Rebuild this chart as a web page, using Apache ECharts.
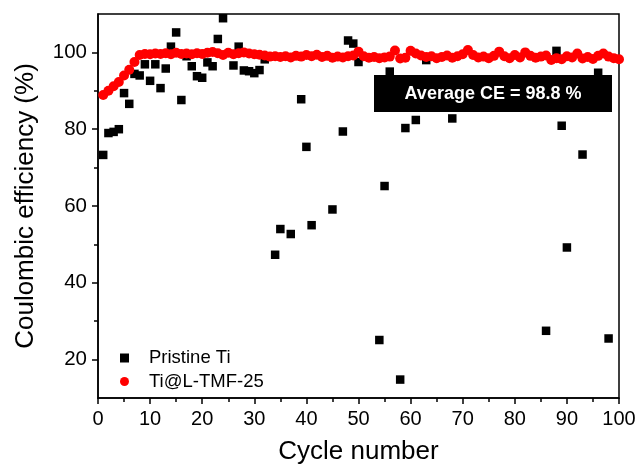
<!DOCTYPE html>
<html>
<head>
<meta charset="utf-8">
<script src="https://cdn.jsdelivr.net/npm/echarts@6/dist/echarts.min.js"></script>
<style>
html,body{margin:0;padding:0;background:#fff;}
#chart{width:639px;height:464px;}
</style>
</head>
<body>
<div id="chart"></div>
<script>
// Pristine Ti (visible points)
const pristineCycles = [1,2,3,4,5,6,7,8,9,10,11,12,13,14,15,16,17,18,19,20,21,22,23,24,26,27,28,29,30,31,32,34,35,37,39,40,41,45,47,48,49,50,54,55,56,58,59,61,63,68,85,86,88,89,90,93,96,98];
const pristineCE = [73.3,79.0,79.3,80.0,89.4,86.6,94.4,94.0,96.9,92.6,96.9,90.7,95.8,101.5,105.2,87.6,99.0,96.4,93.8,93.4,97.4,96.4,103.5,108.9,96.6,101.5,95.3,95.1,94.6,95.4,98.2,47.3,54.0,52.7,87.8,75.4,55.0,59.1,79.4,103.1,102.3,97.5,25.1,65.2,95.0,14.8,80.3,82.4,98.0,82.8,110.2,27.5,100.4,80.9,49.2,73.4,94.7,25.5];

// Ti@L-TMF-25, cycles 1..100
const coatedCycles = Array.from({length:100},(_,i)=>i+1);
const coatedCE = [88.9,90.0,91.2,92.3,94.0,95.5,97.5,99.3,99.6,99.5,
99.7,99.6,99.8,99.5,99.9,99.6,99.7,99.5,99.8,99.6,
99.9,100.1,99.8,99.3,99.9,99.5,99.8,100.0,99.7,99.5,
99.4,99.2,98.9,99.0,98.8,99.0,98.7,99.1,98.9,99.3,
99.0,99.4,98.8,99.1,98.6,98.9,98.7,99.0,99.2,100.2,
99.0,98.6,98.8,98.5,98.7,98.9,100.5,98.4,98.6,100.4,
99.7,99.2,98.8,99.0,98.5,98.8,99.2,98.6,99.0,99.5,
100.6,99.3,98.7,98.9,98.5,99.1,100.2,99.0,98.5,99.3,
98.7,100.0,99.1,98.6,98.9,99.2,98.0,98.5,98.2,99.0,
98.7,99.7,98.4,98.8,98.3,99.1,99.7,98.9,98.5,98.2];

const xTicks = [0,10,20,30,40,50,60,70,80,90,100];
const yMajor = [20,40,60,80,100];
const yMinor = [30,50,70,90];
const seriesNames = ['Pristine Ti','Ti@L-TMF-25'];
const annotation = 'Average CE = 98.8 %';

const font = 'Liberation Sans, Arial, sans-serif';
const chart = echarts.init(document.getElementById('chart'), null, {renderer:'canvas'});
chart.setOption({
  animation:false,
  backgroundColor:'#fff',
  grid:{left:98,right:20,top:14,bottom:66,containLabel:false,outerBoundsMode:'none',show:true,borderColor:'#000',borderWidth:1.5,backgroundColor:'transparent'},
  legend:{
    orient:'vertical',left:115,top:343,itemWidth:9,itemHeight:9,itemGap:3.5,
    textStyle:{fontFamily:font,fontSize:18.5,lineHeight:20,color:'#000',padding:[0,0,0,15]},
    data:[{name:seriesNames[0],icon:'rect',itemStyle:{color:'#000',opacity:1}},{name:seriesNames[1],icon:'circle',itemStyle:{color:'#ff0000',opacity:1}}]
  },
  xAxis:{
    type:'value',min:0,max:100,interval:10,
    name:'Cycle number',nameLocation:'middle',nameGap:41,
    nameTextStyle:{fontFamily:font,fontSize:26,color:'#000'},
    axisLine:{show:true,onZero:false,lineStyle:{color:'#000',width:1.5}},
    axisTick:{show:true,inside:false,length:6,lineStyle:{color:'#000',width:1.5}},
    minorTick:{show:true,splitNumber:2,length:4,lineStyle:{color:'#000',width:1.5}},
    axisLabel:{fontFamily:font,fontSize:20,color:'#000',margin:11,customValues:xTicks},
    splitLine:{show:false}
  },
  yAxis:[{
    type:'value',min:10,max:110,
    name:'Coulombic efficiency (%)',nameLocation:'middle',nameGap:59,
    nameTextStyle:{fontFamily:font,fontSize:26,color:'#000'},
    axisLine:{show:true,onZero:false,lineStyle:{color:'#000',width:1.5}},
    axisTick:{show:true,length:6,customValues:yMajor,lineStyle:{color:'#000',width:1.5}},
    axisLabel:{fontFamily:font,fontSize:20.5,color:'#000',margin:11,customValues:yMajor},
    splitLine:{show:false}
  },{
    type:'value',min:10,max:110,position:'left',
    axisLine:{show:false},
    axisTick:{show:true,length:4,customValues:yMinor,lineStyle:{color:'#000',width:1.5}},
    axisLabel:{show:false},
    splitLine:{show:false}
  }],
  series:[{
    name:seriesNames[0],type:'scatter',symbol:'rect',symbolSize:8.5,
    itemStyle:{color:'#000',opacity:1},z:2,
    data:pristineCycles.map((c,i)=>[c,pristineCE[i]])
  },{
    name:seriesNames[1],type:'scatter',symbol:'circle',symbolSize:10,
    itemStyle:{color:'#ff0000',opacity:1},z:3,
    data:coatedCycles.map((c,i)=>[c,coatedCE[i]])
  }],
  graphic:[{
    type:'group',left:374,top:75,z:10,
    children:[
      {type:'rect',shape:{x:0,y:0,width:238,height:37},style:{fill:'#000'}},
      {type:'text',x:119,y:19,style:{text:annotation,fill:'#fff',font:'bold 18px '+font,align:'center',verticalAlign:'middle'}}
    ]
  }]
});
</script>
</body>
</html>
